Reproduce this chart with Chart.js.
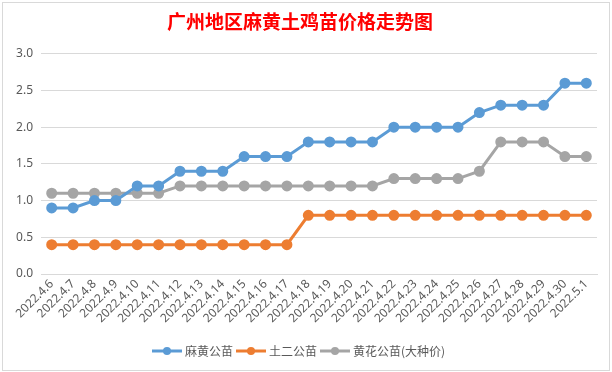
<!DOCTYPE html>
<html>
<head>
<meta charset="utf-8">
<script src="https://cdn.jsdelivr.net/npm/chart.js@4"></script>
<style>
  html, body { margin: 0; padding: 0; background: #fff; }
  #box { position: absolute; left: 2px; top: 2px; width: 606px; height: 367px; border: 1px solid #d9d9d9; }
  canvas { display: block; }
</style>
</head>
<body>
<div id="box"><canvas id="grafica" width="606" height="367"></canvas></div>
<script>
const fechas = ['2022.4.6', '2022.4.7', '2022.4.8', '2022.4.9', '2022.4.10', '2022.4.11', '2022.4.12',
    '2022.4.13', '2022.4.14', '2022.4.15', '2022.4.16', '2022.4.17', '2022.4.18', '2022.4.19',
    '2022.4.20', '2022.4.21', '2022.4.22', '2022.4.23', '2022.4.24', '2022.4.25', '2022.4.26',
    '2022.4.27', '2022.4.28', '2022.4.29', '2022.4.30', '2022.5.1'];
const mahuang = [0.9, 0.9, 1.0, 1.0, 1.2, 1.2, 1.4, 1.4, 1.4, 1.6, 1.6, 1.6, 1.8,
    1.8, 1.8, 1.8, 2.0, 2.0, 2.0, 2.0, 2.2, 2.3, 2.3, 2.3, 2.6, 2.6];
const tuer = [0.4, 0.4, 0.4, 0.4, 0.4, 0.4, 0.4, 0.4, 0.4, 0.4, 0.4, 0.4, 0.8,
    0.8, 0.8, 0.8, 0.8, 0.8, 0.8, 0.8, 0.8, 0.8, 0.8, 0.8, 0.8, 0.8];
const huanghua = [1.1, 1.1, 1.1, 1.1, 1.1, 1.1, 1.2, 1.2, 1.2, 1.2, 1.2, 1.2, 1.2,
    1.2, 1.2, 1.2, 1.3, 1.3, 1.3, 1.3, 1.4, 1.8, 1.8, 1.8, 1.6, 1.6];
const yTicks = [0, 0.5, 1.0, 1.5, 2.0, 2.5, 3.0];

const textColor = '#595959';
const gridColor = '#d9d9d9';

// icono de leyenda: línea con punto
function iconoLeyenda(color) {
    const c = document.createElement('canvas');
    c.width = 30; c.height = 10;
    const g = c.getContext('2d');
    g.strokeStyle = color; g.lineWidth = 3;
    g.beginPath(); g.moveTo(0, 5); g.lineTo(30, 5); g.stroke();
    g.fillStyle = color;
    g.beginPath(); g.arc(15, 5, 4, 0, Math.PI * 2); g.fill();
    return c;
}

function serie(label, data, color) {
    return {
        label: label,
        data: data,
        borderColor: color,
        backgroundColor: color,
        borderWidth: 3,
        pointRadius: 4,
        pointHoverRadius: 4,
        pointStyle: 'circle',
        tension: 0
    };
}

const ctx = document.getElementById('grafica').getContext('2d');
const chart = new Chart(ctx, {
    type: 'line',
    data: {
        labels: fechas,
        datasets: [
            serie('麻黄公苗', mahuang, '#5b9bd5'),
            serie('土二公苗', tuer, '#ed7d31'),
            serie('黄花公苗(大种价)', huanghua, '#a5a5a5')
        ]
    },
    options: {
        responsive: false,
        animation: false,
        layout: { padding: { left: 0, right: 12, top: 0, bottom: 3 } },
        plugins: {
            title: {
                display: true,
                text: '广州地区麻黄土鸡苗价格走势图',
                color: '#ff0000',
                font: { family: '"Noto Sans CJK SC"', size: 19, weight: 'bold' },
                padding: { top: 7, bottom: 21 }
            },
            legend: {
                position: 'bottom',
                labels: {
                    color: textColor,
                    font: { family: '"Noto Sans CJK SC"', size: 12 },
                    usePointStyle: true,
                    pointStyleWidth: 24,
                    boxHeight: 10,
                    padding: 6,
                    generateLabels: function (ch) {
                        return ch.data.datasets.map(function (ds, i) {
                            return {
                                text: ds.label,
                                fontColor: textColor,
                                pointStyle: iconoLeyenda(ds.borderColor),
                                strokeStyle: ds.borderColor,
                                fillStyle: ds.borderColor,
                                lineWidth: 0,
                                datasetIndex: i
                            };
                        });
                    }
                }
            },
            tooltip: { enabled: false }
        },
        scales: {
            x: {
                offset: true,
                grid: { display: false, drawTicks: false },
                border: { color: gridColor },
                afterFit: function (axis) { axis.height = 65; },
                ticks: {
                    color: textColor,
                    font: { family: '"Noto Sans", sans-serif', size: 12 },
                    minRotation: 45,
                    maxRotation: 45,
                    autoSkip: false,
                    padding: 3
                }
            },
            y: {
                min: 0,
                max: 3,
                afterBuildTicks: function (axis) {
                    axis.ticks = yTicks.map(function (v) { return { value: v }; });
                },
                afterFit: function (axis) { axis.width = 38; },
                grid: { color: gridColor, drawTicks: false },
                border: { display: false },
                ticks: {
                    color: textColor,
                    font: { family: '"Noto Sans", sans-serif', size: 12 },
                    padding: 8,
                    callback: function (v) { return Number(v).toFixed(1); }
                }
            }
        }
    }
});
</script>
</body>
</html>
